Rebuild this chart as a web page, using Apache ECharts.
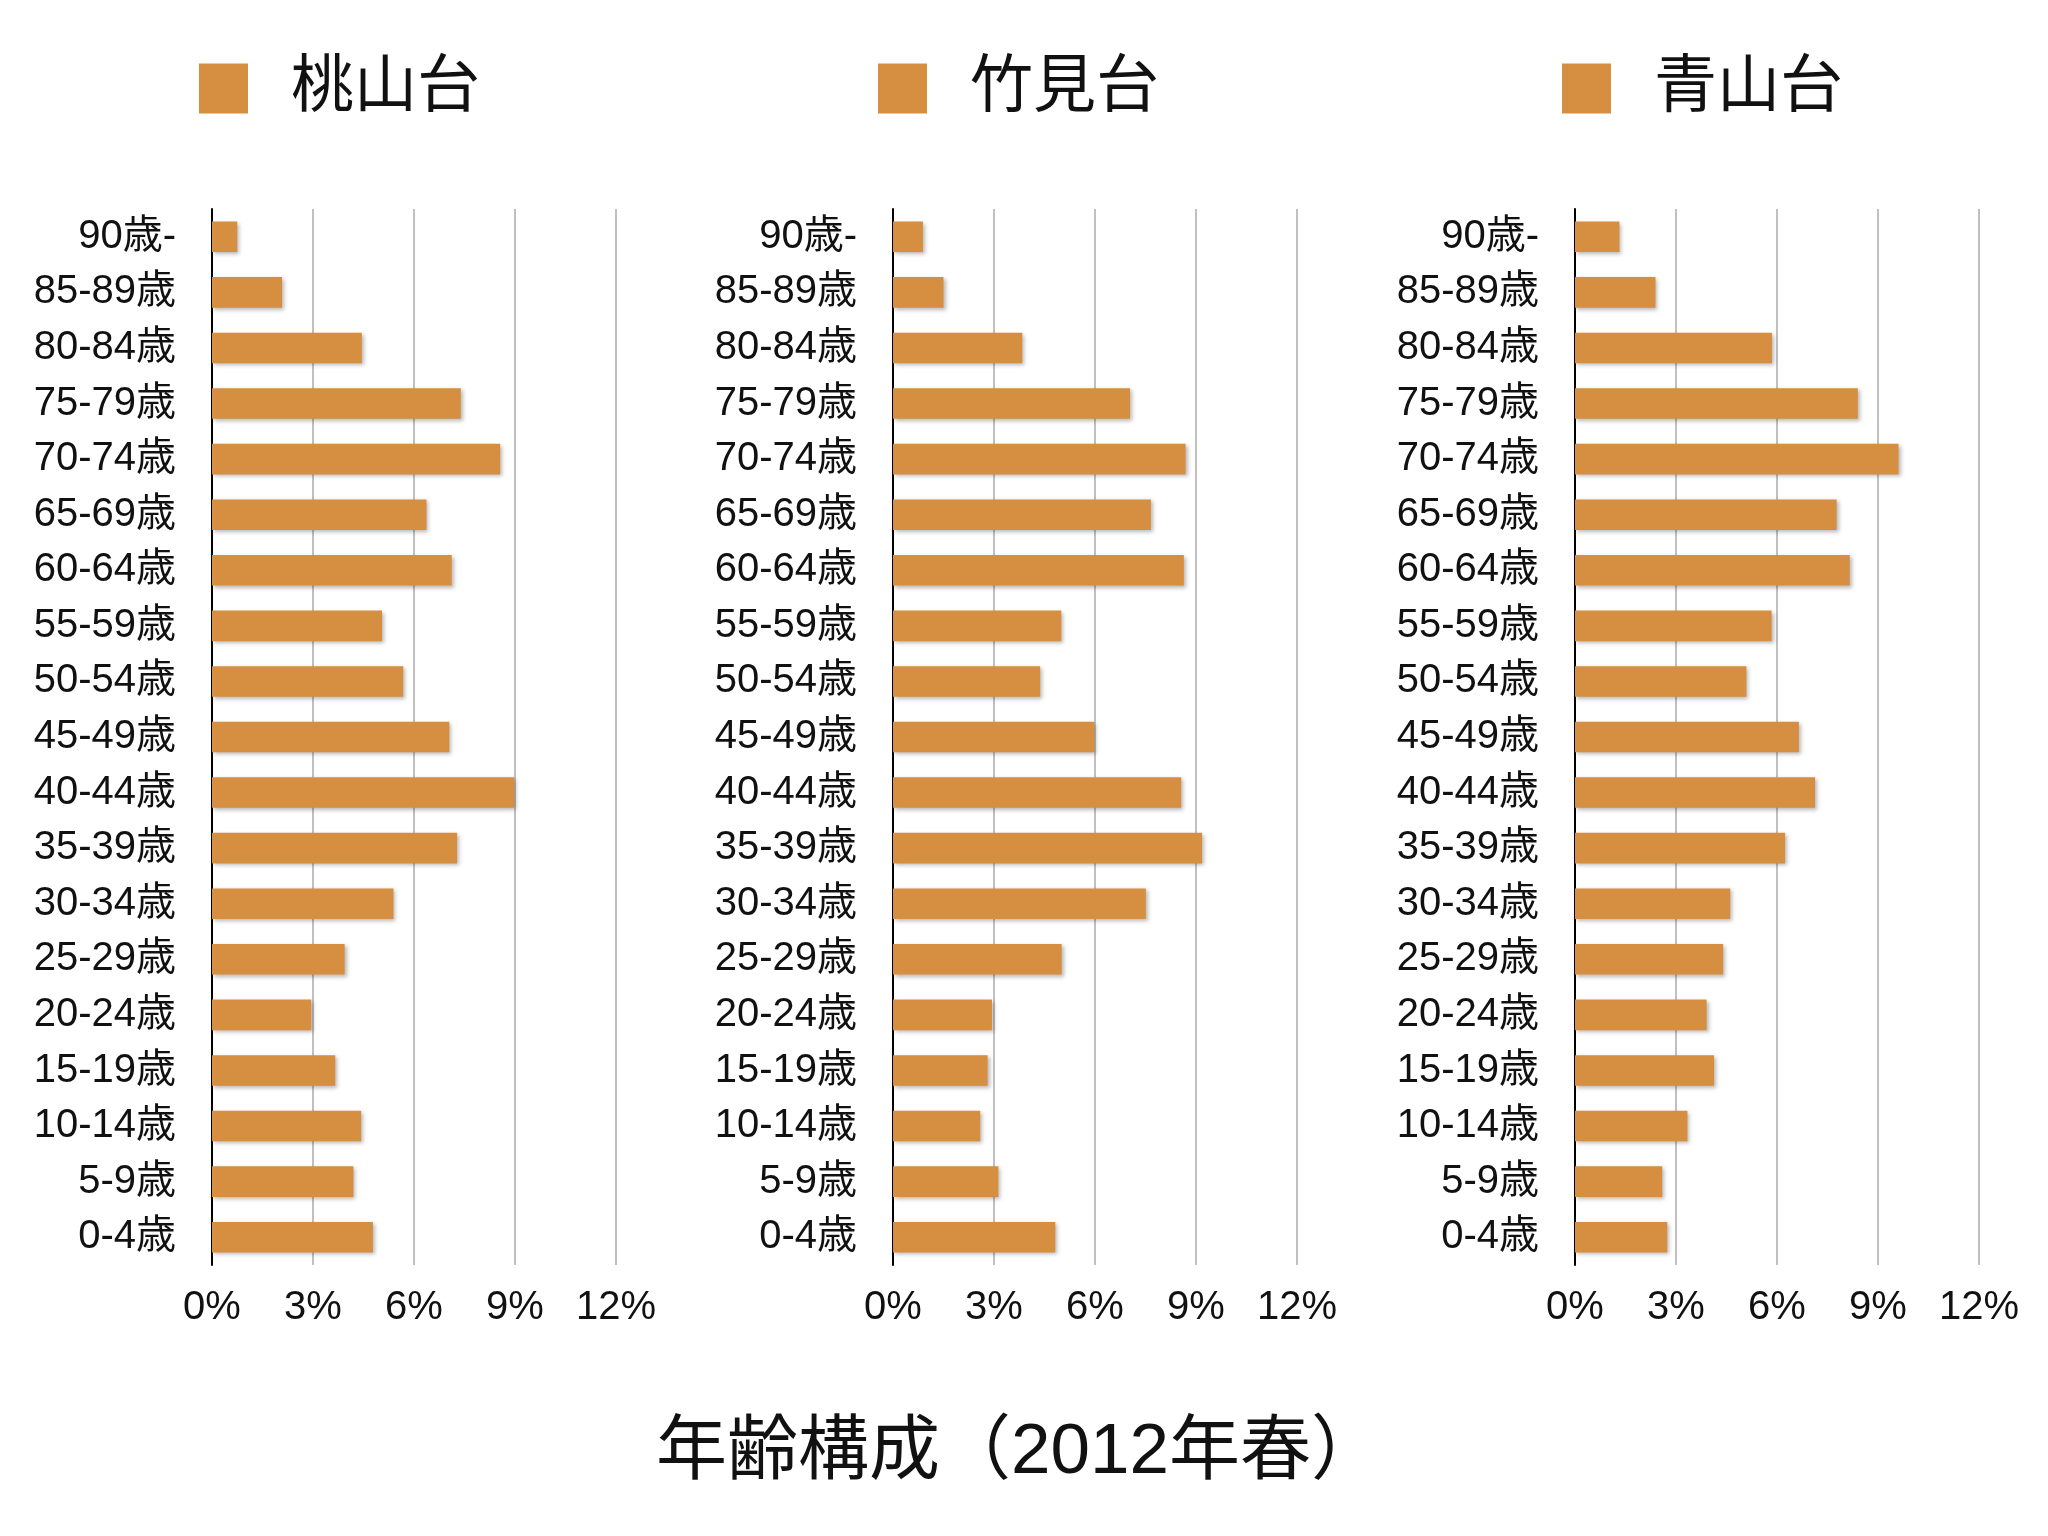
<!DOCTYPE html>
<html>
<head>
<meta charset="utf-8">
<script src="https://cdn.jsdelivr.net/npm/echarts@6/dist/echarts.min.js"></script>
<style>
html,body{margin:0;padding:0;background:#fff;}
#chart{width:2048px;height:1536px;}
</style>
</head>
<body>
<div id="chart"></div>
<script>
// Age groups, top to bottom
const categories = ['90歳-','85-89歳','80-84歳','75-79歳','70-74歳','65-69歳','60-64歳','55-59歳','50-54歳','45-49歳','40-44歳','35-39歳','30-34歳','25-29歳','20-24歳','15-19歳','10-14歳','5-9歳','0-4歳'];
const seriesNames = ['桃山台','竹見台','青山台'];
// percentages (%), same order as categories
const momoyamadai = [0.75,2.08,4.45,7.39,8.56,6.37,7.12,5.05,5.68,7.05,8.98,7.28,5.39,3.94,2.95,3.66,4.43,4.20,4.78];
const takemidai   = [0.89,1.50,3.84,7.04,8.69,7.66,8.64,5.00,4.37,5.98,8.56,9.18,7.51,5.01,2.94,2.81,2.59,3.13,4.82];
const aoyamadai   = [1.32,2.39,5.85,8.40,9.61,7.77,8.16,5.84,5.09,6.65,7.13,6.24,4.61,4.40,3.91,4.13,3.34,2.59,2.74];
const xTicks = [0,3,6,9,12];
const titleText = '年齢構成（2012年春）';

const allData = [momoyamadai, takemidai, aoyamadai];
const FONT = '"Liberation Sans","Noto Sans CJK JP",sans-serif';
const BAR = '#d68f40';
const gridLefts = [212, 893, 1575];
const legendLefts = [199, 878, 1562];
const gridW = 404;

const chart = echarts.init(document.getElementById('chart'), null, {renderer:'canvas'});
const grids = [], xAxes = [], yAxes = [], series = [], legends = [];
for (let i = 0; i < 3; i++) {
  grids.push({left: gridLefts[i], top: 209, width: gridW, height: 1056, containLabel: false});
  xAxes.push({
    type: 'value', gridIndex: i, min: xTicks[0], max: xTicks[xTicks.length-1], interval: xTicks[1]-xTicks[0],
    axisLine: {show: false}, axisTick: {show: false},
    splitLine: {show: true, lineStyle: {color: '#ababab', width: 1.5}},
    axisLabel: {formatter: '{value}%', fontFamily: FONT, fontSize: 40, color: '#111', margin: 23}
  });
  yAxes.push({
    type: 'category', gridIndex: i, data: categories, inverse: true,
    axisLine: {show: true, lineStyle: {color: '#000', width: 2}},
    axisTick: {show: false},
    axisLabel: {fontFamily: FONT, fontSize: 40, color: '#111', margin: 36}
  });
  series.push({
    name: seriesNames[i], type: 'bar', xAxisIndex: i, yAxisIndex: i,
    data: allData[i], barCategoryGap: '45%',
    itemStyle: {color: BAR, shadowColor: 'rgba(0,0,0,0.28)', shadowBlur: 4, shadowOffsetX: 2, shadowOffsetY: 2},
    emphasis: {disabled: true}, animation: false
  });
  legends.push({
    data: [seriesNames[i]], left: legendLefts[i], top: 57, padding: 0, icon: 'rect',
    itemWidth: 49, itemHeight: 50, selectedMode: false,
    textStyle: {fontFamily: FONT, fontSize: 63, color: '#111', padding: [0,0,6,38]}
  });
}

chart.setOption({
  backgroundColor: '#ffffff',
  animation: false,
  title: {text: titleText, left: 1014, top: 1413, textAlign: 'center',
    textStyle: {fontFamily: FONT, fontSize: 71, fontWeight: 'normal', color: '#111'}},
  legend: legends,
  grid: grids,
  xAxis: xAxes,
  yAxis: yAxes,
  series: series
});
</script>
</body>
</html>
